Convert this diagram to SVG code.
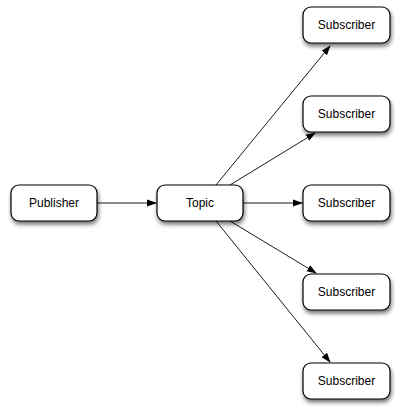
<svg xmlns="http://www.w3.org/2000/svg" width="400" height="413" viewBox="0 0 400 413">
<defs>
<style>
.box{fill:#fff;stroke:#000;stroke-width:1.2;filter:url(#sh)}
.lbl{font-family:"Liberation Sans",Arial,sans-serif;font-size:12px;fill:#000;text-anchor:middle}
.con{stroke:#000;stroke-width:0.9;fill:none;marker-end:url(#ah)}
</style>
<filter id="sh" x="-20%" y="-30%" width="150%" height="180%">
<feGaussianBlur in="SourceAlpha" stdDeviation="2"/>
<feOffset dx="1" dy="3" result="b"/>
<feComponentTransfer><feFuncA type="linear" slope="0.55"/></feComponentTransfer>
<feMerge><feMergeNode/><feMergeNode in="SourceGraphic"/></feMerge>
</filter>
<marker id="ah" markerWidth="10" markerHeight="8" refX="9" refY="4" orient="auto" markerUnits="userSpaceOnUse">
<path d="M0,0.5 L10,4 L0,7.5 Z" fill="#000"/>
</marker>
</defs>
<g id="connectors">
<line class="con" x1="97" y1="203" x2="156" y2="203"/>
<line class="con" x1="243" y1="203" x2="302" y2="203"/>
<line class="con" x1="216" y1="185" x2="330" y2="46"/>
<line class="con" x1="230" y1="185" x2="315" y2="133"/>
<line class="con" x1="230" y1="221" x2="316" y2="273"/>
<line class="con" x1="216" y1="221" x2="330" y2="362"/>
</g>
<g id="publisher"><rect class="box" x="11" y="185" width="86" height="36" rx="8"/><text class="lbl" x="54" y="207">Publisher</text></g>
<g id="topic"><rect class="box" x="157" y="185" width="86" height="36" rx="8"/><text class="lbl" x="200" y="207">Topic</text></g>
<g id="sub1"><rect class="box" x="303" y="7" width="87" height="36" rx="8"/><text class="lbl" x="346.5" y="29">Subscriber</text></g>
<g id="sub2"><rect class="box" x="303" y="96" width="87" height="36" rx="8"/><text class="lbl" x="346.5" y="118">Subscriber</text></g>
<g id="sub3"><rect class="box" x="303" y="185" width="87" height="36" rx="8"/><text class="lbl" x="346.5" y="207">Subscriber</text></g>
<g id="sub4"><rect class="box" x="303" y="274" width="87" height="36" rx="8"/><text class="lbl" x="346.5" y="296">Subscriber</text></g>
<g id="sub5"><rect class="box" x="303" y="363" width="87" height="36" rx="8"/><text class="lbl" x="346.5" y="385">Subscriber</text></g>
</svg>
